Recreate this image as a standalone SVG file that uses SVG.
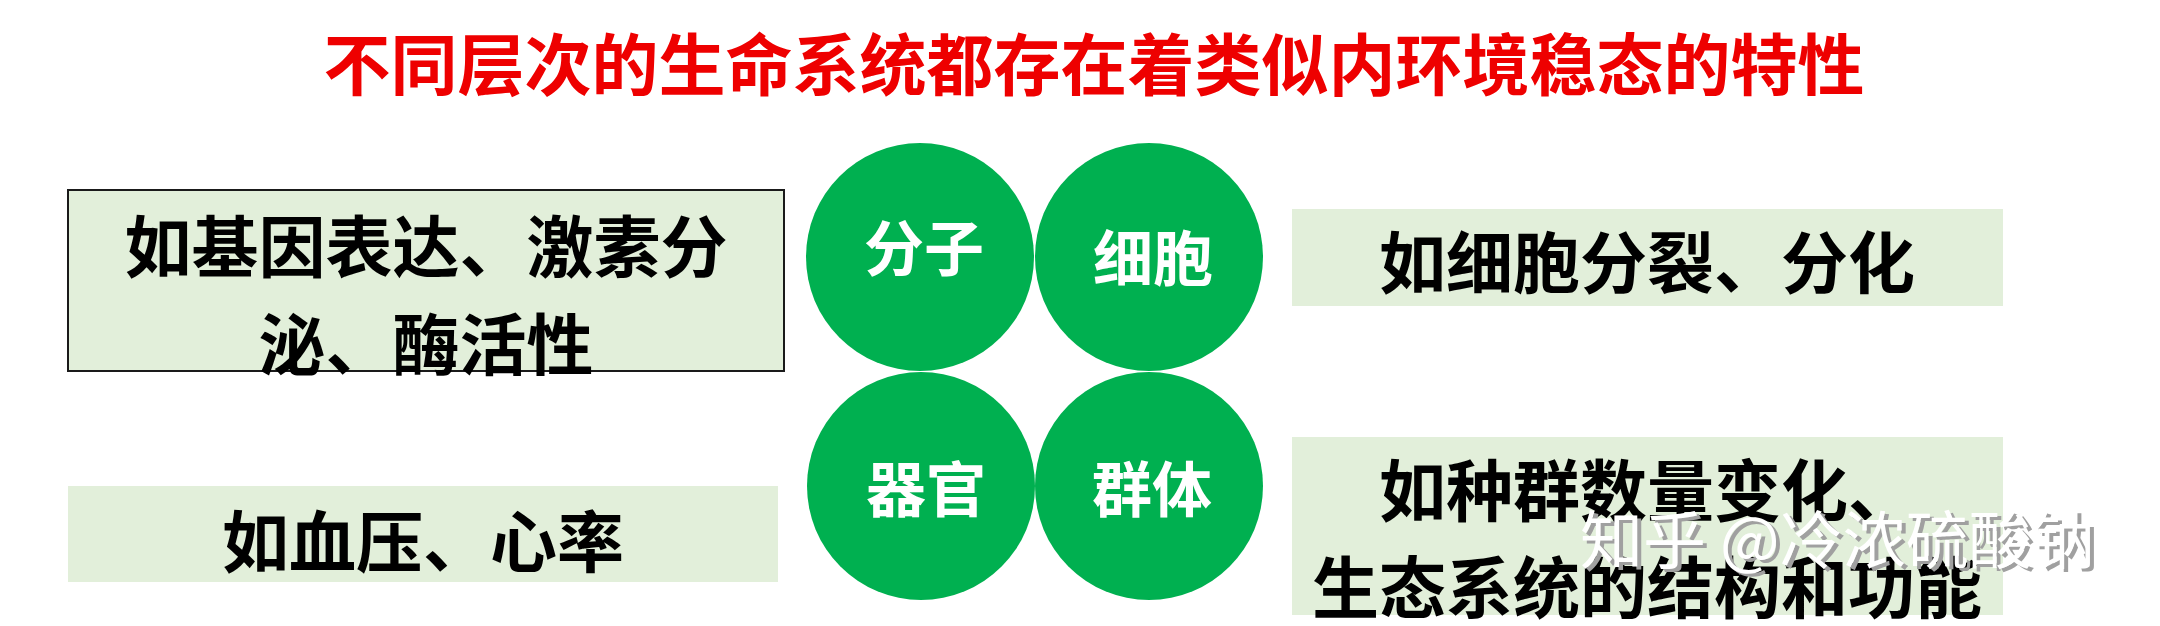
<svg xmlns="http://www.w3.org/2000/svg" width="2160" height="626" viewBox="0 0 2160 626">
<style>
.t{font-family:"Noto Sans CJK SC","Noto Sans CJK TC",sans-serif;font-weight:bold;text-anchor:middle}
.title{font-size:67px;fill:#ee0000}
.box{fill:#e2efda}
.bt{font-size:67px;fill:#000000}
.circ{fill:#00b050}
.ct{font-size:60px;fill:#ffffff}
.wm{font-family:"Noto Sans CJK SC",sans-serif;font-size:63px;font-weight:normal}
</style>
<rect width="2160" height="626" fill="#ffffff"/>
<g id="title">
<text class="t title" x="1094" y="90">不同层次的生命系统都存在着类似内环境稳态的特性</text>
</g>
<g id="connectors"></g>
<g id="box-molecule">
<rect class="box" x="68" y="190" width="716" height="181" stroke="#1a1a1a" stroke-width="2"/>
<text class="t bt" x="426" y="272">如基因表达、激素分</text>
<text class="t bt" x="426" y="370">泌、酶活性</text>
</g>
<g id="box-cell">
<rect class="box" x="1292" y="209" width="711" height="97"/>
<text class="t bt" x="1647" y="288">如细胞分裂、分化</text>
</g>
<g id="box-organ">
<rect class="box" x="68" y="486" width="710" height="96"/>
<text class="t bt" x="423" y="567">如血压、心率</text>
</g>
<g id="box-population">
<rect class="box" x="1292" y="437" width="711" height="178"/>
<text class="t bt" x="1647" y="516">如种群数量变化、</text>
<text class="t bt" x="1647" y="613">生态系统的结构和功能</text>
</g>
<g id="node-molecule">
<circle class="circ" cx="920" cy="257" r="114"/>
<text class="t ct" x="924" y="271">分子</text>
</g>
<g id="node-cell">
<circle class="circ" cx="1149" cy="257" r="114"/>
<text class="t ct" x="1153" y="281">细胞</text>
</g>
<g id="node-organ">
<circle class="circ" cx="921" cy="486" r="114"/>
<text class="t ct" x="926" y="512">器官</text>
</g>
<g id="node-population">
<circle class="circ" cx="1149" cy="486" r="114"/>
<text class="t ct" x="1152" y="512">群体</text>
</g>
<g id="watermark">
<text class="wm" x="1584" y="566" fill="#a0a0a0">知乎 @冷浓硫酸钠</text>
<text class="wm" x="1580" y="563" fill="#ffffff">知乎 @冷浓硫酸钠</text>
</g>
</svg>
